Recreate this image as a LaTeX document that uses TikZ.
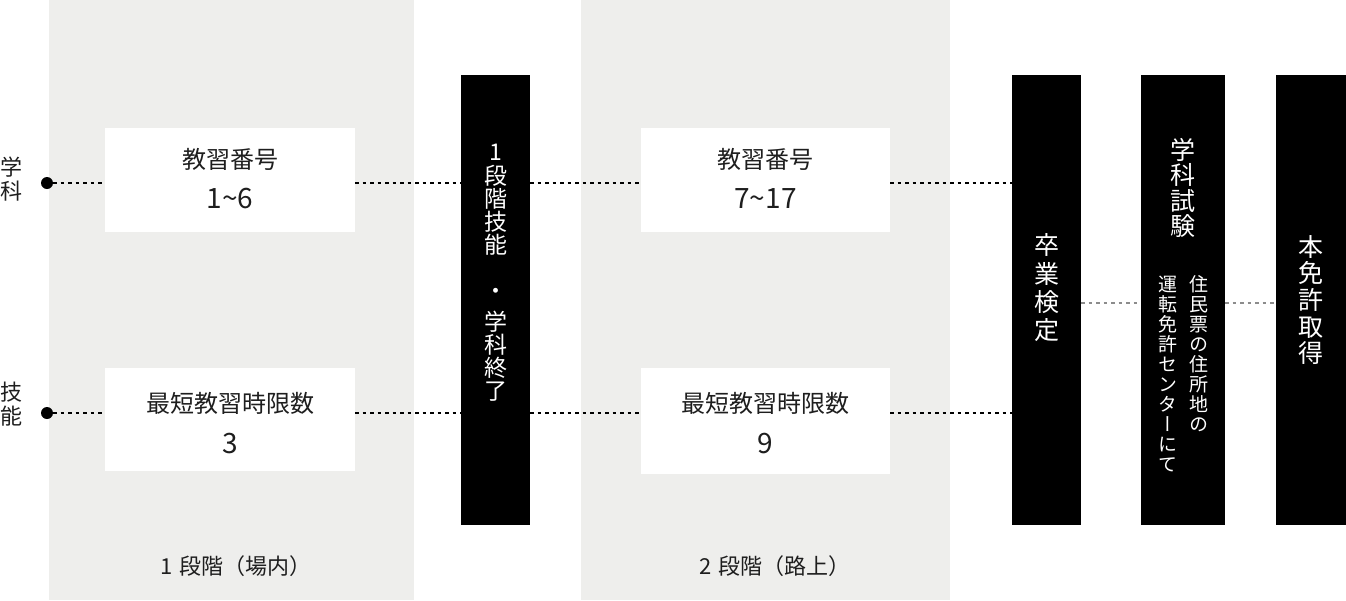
\documentclass[tikz,border=0pt]{standalone}
\usepackage{fontspec}
\setmainfont{Noto Sans CJK JP}
\newfontfamily\tatefont[RawFeature=+vert]{Noto Sans CJK JP}
\lineskiplimit=-\maxdimen
\definecolor{panelgray}{RGB}{238,238,236}
\definecolor{inkgray}{RGB}{30,30,30}
\definecolor{linkgray}{RGB}{140,140,140}
\tikzset{
  panel/.style={
    fill=panelgray,
    inner sep=0pt,
    minimum height=600pt,
  },
  info box/.style={
    fill=white,
    inner sep=0pt,
    minimum width=250pt,
  },
  milestone/.style={
    fill=black,
    inner sep=0pt,
    minimum height=450pt,
  },
  box title/.style={inkgray, anchor=base, inner sep=0pt, font=\fontsize{24pt}{28pt}\selectfont},
  box count/.style={inkgray, anchor=base, inner sep=0pt, font=\fontsize{28pt}{32pt}\selectfont},
  stage label/.style={inkgray, anchor=base, inner sep=0pt, font=\fontsize{22pt}{26pt}\selectfont},
  tate/.style 2 args={
    white,
    align=center,
    inner sep=0pt,
    font=\tatefont\fontsize{#1}{#2}\selectfont,
  },
  row dot/.style={circle, fill=black, minimum size=12pt, inner sep=0pt},
  link/.style={line width=1.5pt, dash pattern=on 3.5pt off 4pt},
  link gray/.style={linkgray, line width=1.3pt, dash pattern=on 3.5pt off 4pt},
}
\begin{document}
\begin{tikzpicture}[x=1pt, y=-1pt]
        \useasboundingbox (0,0) rectangle (1346,600);

        % stages
        \node[panel, minimum width=365pt] (stage1) at (231.5,300) {};
        \node[panel, minimum width=369pt] (stage2) at (765.5,300) {};
        \node[stage label] (stage1 label) at (236,574) {1\hspace{0.3em}段階（場内）};
        \node[stage label] (stage2 label) at (775,574) {2\hspace{0.3em}段階（路上）};

        % lessons
        \node[info box, minimum height=104pt] (gakka1) at (230,180) {};
        \node[info box, minimum height=103pt] (gino1) at (230,419.5) {};
        \node[info box, minimum width=249pt, minimum height=104pt] (gakka2) at (765.5,180) {};
        \node[info box, minimum width=249pt, minimum height=106pt] (gino2) at (765.5,421) {};

        \node[box title] (gakka1 title) at (230,168) {教習番号};
        \node[box count] (gakka1 count) at (230,208.5) {1\textasciitilde 6};
        \node[box title] (gino1 title) at (230,412.5) {最短教習時限数};
        \node[box count] (gino1 count) at (230,453.5) {3};
        \node[box title] (gakka2 title) at (765.5,168) {教習番号};
        \node[box count] (gakka2 count) at (765.5,208.5) {7\textasciitilde 17};
        \node[box title] (gino2 title) at (765.5,412.5) {最短教習時限数};
        \node[box count] (gino2 count) at (765.5,453.5) {9};

        % milestones
        \node[milestone, minimum width=69pt] (stage1 end) at (495.5,300) {};
        \node[milestone, minimum width=69pt] (final test) at (1046.5,300) {};
        \node[milestone, minimum width=84pt] (exam) at (1183,300) {};
        \node[milestone, minimum width=70pt] (license) at (1311,300) {};

        \node[tate={23pt}{23.2pt}] (stage1 end text) at (495.5,273) {1\\段\\階\\技\\能\\[23pt]・\\[7pt]学\\科\\終\\了};
        \node[tate={25pt}{28.3pt}] (final test text) at (1047,288) {卒\\業\\検\\定};
        \node[tate={25pt}{25.5pt}] (exam text) at (1183,188) {学\\科\\試\\験};
        \node[tate={19pt}{20pt}] (exam place a) at (1199,354) {住\\民\\票\\の\\住\\所\\地\\の};
        \node[tate={19pt}{20pt}] (exam place b) at (1168,374) {運\\転\\免\\許\\セ\\ン\\タ\\ー\\に\\て};
        \node[tate={25pt}{26.7pt}] (license text) at (1311,300) {本\\免\\許\\取\\得};

        % rows
        \node[tate={22pt}{24pt}, inkgray] (gakka label) at (12,179) {学\\科};
        \node[tate={22pt}{24.5pt}, inkgray] (gino label) at (12,404) {技\\能};
        \node[row dot] (gakka dot) at (47,183) {};
        \node[row dot] (gino dot) at (47,413) {};
        \coordinate (exam row) at (1081,303);

        \draw[link] (gakka dot) -- (gakka dot -| gakka1.west);
        \draw[link] (gakka1.east |- gakka dot) -- (gakka dot -| stage1 end.west);
        \draw[link] (stage1 end.east |- gakka dot) -- (gakka dot -| gakka2.west);
        \draw[link] (gakka2.east |- gakka dot) -- (gakka dot -| final test.west);

        \draw[link] (gino dot) -- (gino dot -| gino1.west);
        \draw[link] (gino1.east |- gino dot) -- (gino dot -| stage1 end.west);
        \draw[link] (stage1 end.east |- gino dot) -- (gino dot -| gino2.west);
        \draw[link] (gino2.east |- gino dot) -- (gino dot -| final test.west);

        \draw[link gray] (exam row) -- (exam row -| exam.west);
        \draw[link gray] (exam.east |- exam row) -- (exam row -| license.west);
\end{tikzpicture}
\end{document}
